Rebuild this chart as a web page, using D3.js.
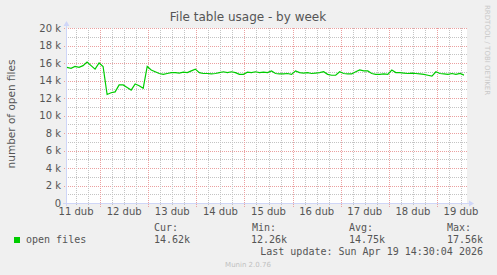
<!DOCTYPE html>
<html>
<head>
<meta charset="utf-8">
<script src="https://cdn.jsdelivr.net/npm/d3@7"></script>
<style>
  html, body { margin: 0; padding: 0; background: #f0f0f0; }
  svg { display: block; }
</style>
</head>
<body>
<svg id="chart" width="497" height="275"></svg>
<script>
// ---- data ----
const title = "File table usage - by week";
const yLabel = "number of open files";
const seriesName = "open files";
const startTime = new Date(2026, 3, 11, 7, 30);   // left edge of the plot
const endTime = new Date(2026, 3, 19, 15, 0);     // right edge of the plot
const stepHours = 2;
const openFiles = [
  15500, 15400, 15600, 15500, 15700, 16100, 15700, 15300, 16000, 15600,
  12400, 12600, 12700, 13500, 13500, 13200, 12900, 13600, 13400, 13100,
  15600, 15200, 15000, 14800, 14700, 14800, 14900, 14900, 14850, 14950,
  14900, 15100, 15300, 14900, 14800, 14800, 14750, 14800, 14900, 15000,
  14900, 15000, 14900, 14700, 14700, 14950, 14900, 15000, 14900, 14950,
  14900, 15100, 14800, 14750, 14750, 14800, 14700, 15100, 14900, 14850,
  14900, 14800, 14850, 14900, 15000, 14700, 14600, 14600, 15000, 14800,
  14750, 14750, 15000, 15200, 15100, 15100, 14800, 14700, 14700, 14750,
  14700, 15200, 14900, 14900, 14850, 14800, 14850, 14800, 14750, 14700,
  14600, 14500, 15000, 14800, 14750, 14700, 14800, 14700, 14800, 14620
];
const yTicks = [0, 2000, 4000, 6000, 8000, 10000, 12000, 14000, 16000, 18000, 20000];
const dayLabels = ["11 dub", "12 dub", "13 dub", "14 dub", "15 dub", "16 dub", "17 dub", "18 dub", "19 dub"];
const legendHeads = ["Cur:", "Min:", "Avg:", "Max:"];
const legendValues = ["14.62k", "12.26k", "14.75k", "17.56k"];
const lastUpdate = "Last update: Sun Apr 19 14:30:04 2026";
const footer = "Munin 2.0.76";
const watermark = "RRDTOOL / TOBI OETIKER";

// ---- layout ----
const L = 67, R = 467, T = 28, B = 203;
const svg = d3.select("#chart");
const textColor = "#555";
const axisColor = "#cfd6f8";
const minorColor = "#c4c4c4";
const majorColor = "#eba0a0";
const lineColor = "#00cc00";

const x = d3.scaleTime().domain([startTime, endTime]).range([L, R]);
const y = d3.scaleLinear().domain([0, 20000]).range([B, T]);

// dotted patterns (1px on / 1px off), aligned to the pixel grid
const defs = svg.append("defs");
function dotPattern(id, color, horizontal) {
  const p = defs.append("pattern").attr("id", id).attr("patternUnits", "userSpaceOnUse")
    .attr("x", 0).attr("y", 0)
    .attr("width", horizontal ? 2 : 1).attr("height", horizontal ? 1 : 2);
  p.append("rect").attr("x", 0).attr("y", 0).attr("width", 1).attr("height", 1).attr("fill", color);
}
dotPattern("hMin", minorColor, true);
dotPattern("hMaj", majorColor, true);
dotPattern("vMin", minorColor, false);
dotPattern("vMaj", majorColor, false);

svg.append("rect").attr("x", 0).attr("y", 0).attr("width", 497).attr("height", 275).attr("fill", "#f0f0f0");
svg.append("rect").attr("x", L).attr("y", T).attr("width", R - L).attr("height", B - T).attr("fill", "#fff");

const grid = svg.append("g").attr("shape-rendering", "crispEdges");

// horizontal grid
const minorY = d3.range(1000, 20001, 1000).filter(v => v % 2000 !== 0);
grid.selectAll("rect.hmin").data(minorY).join("rect").attr("class", "hmin")
  .attr("x", L - 2).attr("width", R - L + 2).attr("y", d => Math.round(y(d))).attr("height", 1)
  .attr("fill", "url(#hMin)");
grid.selectAll("rect.hmaj").data(yTicks.filter(v => v > 0)).join("rect").attr("class", "hmaj")
  .attr("x", L - 4).attr("width", R - L + 4).attr("y", d => Math.round(y(d))).attr("height", 1)
  .attr("fill", "url(#hMaj)");

// vertical grid
const sixHours = d3.timeHour.every(6).range(startTime, endTime);
const midnights = d3.timeDay.range(startTime, endTime);
grid.selectAll("rect.vmin").data(sixHours.filter(d => d.getHours() !== 0)).join("rect").attr("class", "vmin")
  .attr("x", d => Math.round(x(d))).attr("width", 1).attr("y", T).attr("height", B - T + 2)
  .attr("fill", "url(#vMin)");
grid.selectAll("rect.vmaj").data(midnights).join("rect").attr("class", "vmaj")
  .attr("x", d => Math.round(x(d))).attr("width", 1).attr("y", T).attr("height", B - T + 4)
  .attr("fill", "url(#vMaj)");

// axes
grid.append("rect").attr("x", L - 1).attr("width", 1).attr("y", T - 4).attr("height", B - T + 7).attr("fill", axisColor);
grid.append("rect").attr("x", L - 4).attr("width", R - L + 7).attr("y", B).attr("height", 1).attr("fill", axisColor);
svg.append("path").attr("d", `M${L - 3.5},${T - 2} L${L + 2.5},${T - 2} L${L - 0.5},${T - 7} Z`).attr("fill", axisColor);
svg.append("path").attr("d", `M${R + 2},${B - 2.5} L${R + 2},${B + 3.5} L${R + 7},${B + 0.5} Z`).attr("fill", axisColor);

// y tick labels
svg.append("g").selectAll("text").data(yTicks).join("text")
  .attr("x", L - 6).attr("y", d => y(d) + 3.5)
  .attr("text-anchor", "end")
  .attr("font-family", "DejaVu Sans").attr("font-size", 10).attr("fill", textColor)
  .text(d => d === 0 ? "0" : (d / 1000) + " k");

// x labels: centred on each day
const days = d3.timeDay.range(new Date(2026, 3, 11), new Date(2026, 3, 20));
svg.append("g").selectAll("text").data(days).join("text")
  .attr("x", d => x(d3.timeHour.offset(d, 12)))
  .attr("y", 215)
  .attr("text-anchor", "middle")
  .attr("font-family", "DejaVu Sans").attr("font-size", 10).attr("fill", textColor)
  .text((d, i) => dayLabels[i]);

// line
const pts = openFiles.map((v, i) => ({ t: d3.timeHour.offset(startTime, i * stepHours), v }));
svg.append("path").datum(pts)
  .attr("fill", "none").attr("stroke", lineColor).attr("stroke-width", 1.2)
  .attr("d", d3.line().x(d => x(d.t)).y(d => y(d.v)));

// title
svg.append("text").attr("x", 248).attr("y", 21).attr("text-anchor", "middle")
  .attr("font-family", "DejaVu Sans").attr("font-size", 12).attr("fill", textColor).text(title);

// y axis label
svg.append("text").attr("transform", "translate(15,114) rotate(-90)").attr("text-anchor", "middle")
  .attr("font-family", "DejaVu Sans").attr("font-size", 10.5).attr("fill", textColor).text(yLabel);

// watermark
svg.append("text").attr("transform", "translate(485,5) rotate(90)").attr("text-anchor", "start")
  .attr("font-family", "DejaVu Sans").attr("font-size", 7).attr("fill", "#c8c8c8").text(watermark);

// legend
const mono = "DejaVu Sans Mono";
svg.append("rect").attr("x", 14).attr("y", 237).attr("width", 6).attr("height", 6).attr("fill", lineColor);
svg.append("text").attr("x", 26).attr("y", 243).attr("font-family", mono).attr("font-size", 10).attr("fill", textColor).text(seriesName);
const headX = [154, 252, 349, 447];
const valRight = [190, 287, 385, 483];
legendHeads.forEach((h, i) => {
  svg.append("text").attr("x", headX[i]).attr("y", 231).attr("font-family", mono).attr("font-size", 10).attr("fill", textColor).text(h);
  svg.append("text").attr("x", valRight[i]).attr("y", 243).attr("text-anchor", "end").attr("font-family", mono).attr("font-size", 10).attr("fill", textColor).text(legendValues[i]);
});
svg.append("text").attr("x", 483).attr("y", 255).attr("text-anchor", "end").attr("font-family", mono).attr("font-size", 10).attr("fill", textColor).text(lastUpdate);
svg.append("text").attr("x", 248).attr("y", 267).attr("text-anchor", "middle").attr("font-family", "DejaVu Sans").attr("font-size", 7).attr("fill", "#c0c0c0").text(footer);
</script>
</body>
</html>
